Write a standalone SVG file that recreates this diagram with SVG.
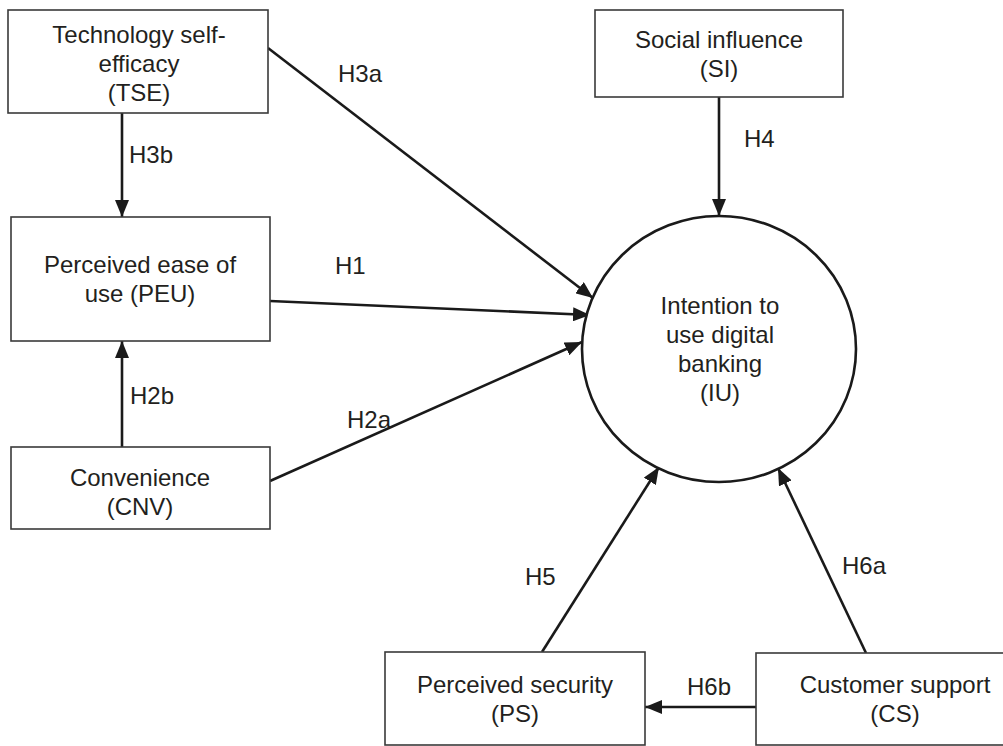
<svg xmlns="http://www.w3.org/2000/svg" width="1003" height="746" viewBox="0 0 1003 746">
<defs>
<style>
.box{fill:#fff;stroke:#3a3a3a;stroke-width:1.6}
.t{font-family:"Liberation Sans",Arial,sans-serif;font-size:24px;fill:#231f20;text-anchor:middle}
.l{font-family:"Liberation Sans",Arial,sans-serif;font-size:24px;fill:#231f20}
.c{stroke:#1a1a1a;stroke-width:2.6;fill:none;marker-end:url(#ah)}
</style>
<marker id="ah" markerUnits="userSpaceOnUse" markerWidth="17" markerHeight="14" refX="17" refY="7" orient="auto">
<path d="M0,0 L17,7 L0,14 z" fill="#1a1a1a"/>
</marker>
</defs>
<rect width="1003" height="746" fill="#fff"/>
<g id="connectors">
<path class="c" d="M122,113 L122,217"/>
<path class="c" d="M268,48 L593,298"/>
<path class="c" d="M719,97 L719,216"/>
<path class="c" d="M270,301 L590,315"/>
<path class="c" d="M270,481 L582,342"/>
<path class="c" d="M122,447 L122,341"/>
<path class="c" d="M542,652 L659,467"/>
<path class="c" d="M866,653 L778,468"/>
<path class="c" d="M756,707 L645,707"/>
<text class="l" x="338" y="82">H3a</text>
<text class="l" x="129" y="163">H3b</text>
<text class="l" x="744" y="147">H4</text>
<text class="l" x="335" y="274">H1</text>
<text class="l" x="130" y="404">H2b</text>
<text class="l" x="347" y="428">H2a</text>
<text class="l" x="525" y="585">H5</text>
<text class="l" x="842" y="574">H6a</text>
<text class="l" x="687" y="695">H6b</text>
</g>
<g id="TSE">
<rect class="box" x="8" y="10" width="260" height="103"/>
<text class="t" x="139" y="43">Technology self-</text>
<text class="t" x="139" y="72">efficacy</text>
<text class="t" x="139" y="101">(TSE)</text>
</g>
<g id="SI">
<rect class="box" x="595" y="10" width="248" height="87"/>
<text class="t" x="719" y="48">Social influence</text>
<text class="t" x="719" y="77">(SI)</text>
</g>
<g id="PEU">
<rect class="box" x="11" y="217" width="259" height="124"/>
<text class="t" x="140" y="273">Perceived ease of</text>
<text class="t" x="140" y="302">use (PEU)</text>
</g>
<g id="CNV">
<rect class="box" x="11" y="447" width="259" height="82"/>
<text class="t" x="140" y="486">Convenience</text>
<text class="t" x="140" y="515">(CNV)</text>
</g>
<g id="IU">
<ellipse cx="719" cy="349" rx="137" ry="133" fill="#fff" stroke="#1a1a1a" stroke-width="2.6"/>
<text class="t" x="720" y="314">Intention to</text>
<text class="t" x="720" y="343">use digital</text>
<text class="t" x="720" y="372">banking</text>
<text class="t" x="720" y="401">(IU)</text>
</g>
<g id="PS">
<rect class="box" x="385" y="652" width="260" height="93"/>
<text class="t" x="515" y="693">Perceived security</text>
<text class="t" x="515" y="722">(PS)</text>
</g>
<g id="CS">
<rect class="box" x="756" y="653" width="280" height="92"/>
<text class="t" x="895" y="693">Customer support</text>
<text class="t" x="895" y="722">(CS)</text>
</g>
</svg>
